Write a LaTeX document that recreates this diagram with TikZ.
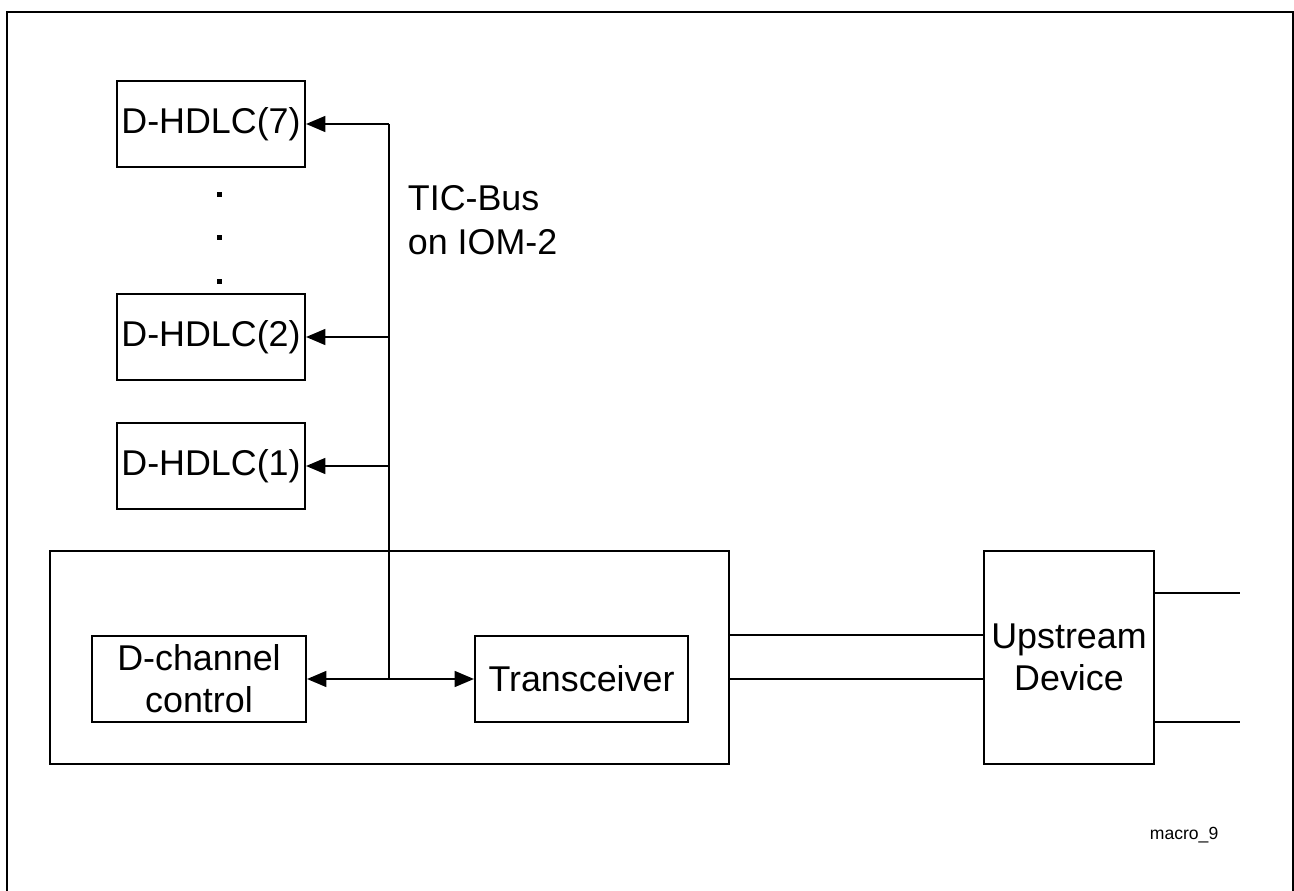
\documentclass[tikz,border=0pt]{standalone}
\usepackage{fontspec}
\setmainfont{Liberation Sans}
\usepackage{xcolor}
\usepackage{tikz}
\usetikzlibrary{arrows.meta}

\begin{document}
\begin{tikzpicture}[x=0.02cm, y=-0.02cm, line width=1.2pt,
  box/.style={draw, rectangle, inner sep=0pt, align=center,
    font=\fontsize{20.4}{24}\selectfont},
  hdlc/.style={box, minimum width=3.76cm, minimum height=1.72cm},
  tip/.style={-{Triangle[length=11pt,width=9pt]}}]
\useasboundingbox (0,0) rectangle (1294,891);
\draw[line width=1.5pt] (7,891) -- (7,12) -- (1293,12) -- (1293,891);

\node[hdlc] (h7) at (211,124) {D-HDLC(7)};
\node[hdlc] (h2) at (211,337) {D-HDLC(2)};
\node[hdlc] (h1) at (211,466) {D-HDLC(1)};
\foreach \y in {195,238,282}
  \fill (216.5,192.5) ++(0,\y-195) rectangle ++(5,5);

\node[box, minimum width=13.58cm, minimum height=4.26cm] (chip) at (389.5,657.5) {};
\node[box, minimum width=4.28cm, minimum height=1.72cm] (dch) at (199,679) {D-channel\\control};
\node[box, minimum width=4.26cm, minimum height=1.72cm] (trx) at (581.5,679) {Transceiver};
\node[box, minimum width=3.4cm, minimum height=4.26cm] (up) at (1069,657.5) {Upstream\\Device};

% TIC bus
\coordinate (bus) at (389,679);
\coordinate (bustop) at (bus |- h7.east);
\draw[tip] (bustop) -- (h7.east);
\draw[tip] (bus |- h2.east) -- (h2.east);
\draw[tip] (bus |- h1.east) -- (h1.east);
\draw (bustop) -- (bus);
\draw[tip] (bus) -- (dch.east);
\draw[tip] (bus) -- (trx.west);
\node[anchor=base west, align=left, font=\fontsize{20.4}{25.6}\selectfont] (tic) at (401,255) {TIC-Bus\\on IOM-2};

% line interface
\draw (chip.east |- dch.north) -- (up.west |- dch.north);
\draw (chip.east |- dch.east) -- (up.west |- dch.east);
\coordinate (o1) at (1240,593);
\coordinate (o2) at (1240,722);
\draw (up.east |- o1) -- (o1);
\draw (up.east |- o2) -- (o2);

\node[anchor=base west, font=\fontsize{10}{12}\selectfont] (tag) at (1143,839) {macro\_9};
\end{tikzpicture}
\end{document}
